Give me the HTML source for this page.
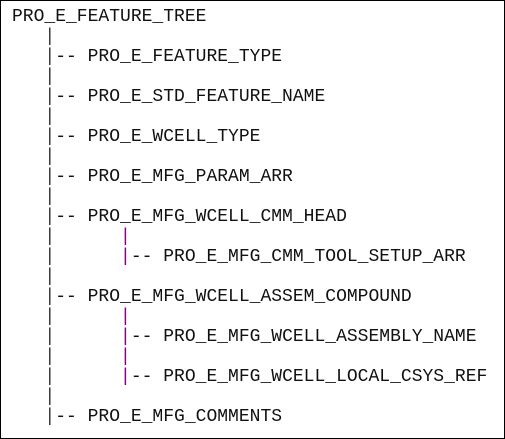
<!DOCTYPE html>
<html><head><style>
html,body{margin:0;padding:0;background:#fff;}
.box{position:absolute;left:0;top:0;width:503px;height:437px;border:1px solid #000;}
pre{position:absolute;left:12px;top:7px;margin:0;font-family:"Liberation Mono","Courier New",monospace;font-size:18px;line-height:20px;color:#111;}
.p{color:#800080;}
.g{color:#333;}
</style></head><body><div class="box"></div>
<pre>PRO_E_FEATURE_TREE
   <span class="g">|</span>
   <span class="g">|</span>-- PRO_E_FEATURE_TYPE
   <span class="g">|</span>
   <span class="g">|</span>-- PRO_E_STD_FEATURE_NAME
   <span class="g">|</span>
   <span class="g">|</span>-- PRO_E_WCELL_TYPE
   <span class="g">|</span>
   <span class="g">|</span>-- PRO_E_MFG_PARAM_ARR
   <span class="g">|</span>
   <span class="g">|</span>-- PRO_E_MFG_WCELL_CMM_HEAD
   <span class="g">|</span>      <span class="p">|</span>
   <span class="g">|</span>      <span class="p">|</span>-- PRO_E_MFG_CMM_TOOL_SETUP_ARR
   <span class="g">|</span>
   <span class="g">|</span>-- PRO_E_MFG_WCELL_ASSEM_COMPOUND
   <span class="g">|</span>      <span class="p">|</span>
   <span class="g">|</span>      <span class="p">|</span>-- PRO_E_MFG_WCELL_ASSEMBLY_NAME
   <span class="g">|</span>      <span class="p">|</span>
   <span class="g">|</span>      <span class="p">|</span>-- PRO_E_MFG_WCELL_LOCAL_CSYS_REF
   <span class="g">|</span>
   <span class="g">|</span>-- PRO_E_MFG_COMMENTS</pre>
</body></html>
